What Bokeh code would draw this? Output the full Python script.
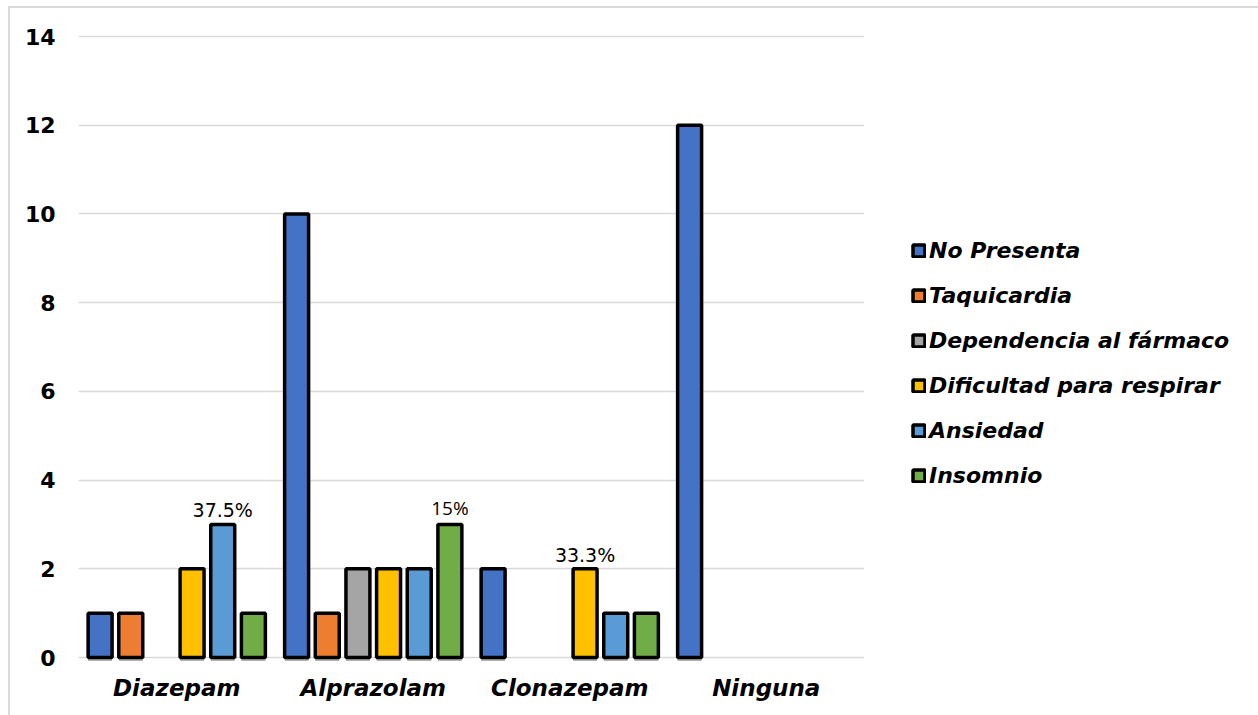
from bokeh.plotting import figure
from bokeh.models import FactorRange, Range1d, Legend, LegendItem, ColumnDataSource, FixedTicker
from bokeh.transform import dodge
from bokeh.core.properties import value
from bokeh.embed import file_html
from bokeh.resources import INLINE

# Benzodiazepine vs. reported adverse effect (counts)
categories = ["Diazepam", "Alprazolam", "Clonazepam", "Ninguna"]
series_names = ["No Presenta", "Taquicardia", "Dependencia al fármaco",
                "Dificultad para respirar", "Ansiedad", "Insomnio"]
no_presenta = [1, 10, 2, 12]
taquicardia = [1, 1, 0, 0]
dependencia = [0, 2, 0, 0]
dificultad = [2, 2, 2, 0]
ansiedad = [3, 2, 1, 0]
insomnio = [1, 3, 1, 0]
y_ticks = [0, 2, 4, 6, 8, 10, 12, 14]

# Percentage annotations: (category, series, text)
pct_labels = [("Diazepam", "Ansiedad", "37.5%"),
              ("Alprazolam", "Insomnio", "15%"),
              ("Clonazepam", "Dificultad para respirar", "33.3%")]

series_values = [no_presenta, taquicardia, dependencia, dificultad, ansiedad, insomnio]
colors = ["#4472C4", "#ED7D31", "#A5A5A5", "#FFC000", "#5B9BD5", "#70AD47"]

PX_PER_UNIT = (657 - 36) / 14.0
p = figure(
    frame_width=786, frame_height=629,
    x_range=FactorRange(*categories, range_padding=0),
    y_range=Range1d(-5 / PX_PER_UNIT, 14 + 3 / PX_PER_UNIT),
    output_backend="svg", toolbar_location=None,
    min_border_left=68, min_border_right=0, min_border_top=25, min_border_bottom=53,
)
p.styles = {"margin-left": "8px", "margin-top": "6px",
            "border-left": "2px solid #d9d9d9", "border-top": "2px solid #d9d9d9"}
p.outline_line_color = None
p.background_fill_color = "white"
p.border_fill_color = "white"

p.xgrid.grid_line_color = None
p.ygrid.grid_line_color = "#d9d9d9"
p.ygrid.grid_line_width = 1.5
p.yaxis.ticker = FixedTicker(ticks=y_ticks)

for ax in (p.xaxis[0], p.yaxis[0]):
    ax.axis_line_color = None
    ax.major_tick_line_color = None
    ax.minor_tick_line_color = None
    ax.major_tick_out = 0
    ax.major_tick_in = 0
    ax.minor_tick_out = 0
    ax.major_label_text_font = "DejaVu Sans"
    ax.major_label_text_font_style = "bold"
    ax.major_label_text_color = "black"

p.yaxis.major_label_text_font_size = "22px"
p.yaxis.major_label_standoff = 23
p.xaxis.major_label_text_font_size = "23px"
p.xaxis.major_label_text_font_style = "bold italic"
p.xaxis.major_label_standoff = 12

PITCH = 0.156
BAR_W = 0.122
offsets = [(i - 2.5) * PITCH for i in range(len(series_names))]

items = []
for name, vals, col, off in zip(series_names, series_values, colors, offsets):
    cats = [c for c, v in zip(categories, vals) if v > 0]
    tops = [v for v in vals if v > 0]
    src = ColumnDataSource(dict(cat=cats, top=tops))
    xs = dodge("cat", off, range=p.x_range)
    # soft drop shadow under each bar
    p.vbar(x=xs, top="top", bottom=-0.08, width=BAR_W, source=src,
           fill_color="#7f7f7f", fill_alpha=0.6, line_color=None)
    r = p.vbar(x=xs, top="top", bottom=0, width=BAR_W, source=src,
               fill_color=col, line_color="black", line_width=3.5)
    items.append(LegendItem(label=name, renderers=[r]))

for cat, ser, txt in pct_labels:
    si = series_names.index(ser)
    yv = series_values[si][categories.index(cat)]
    src = ColumnDataSource(dict(cat=[cat], y=[yv], t=[txt]))
    font = "Open Sans" if txt == "15%" else "DejaVu Sans"
    p.text(x=dodge("cat", offsets[si], range=p.x_range), y="y", text="t", source=src,
           text_font=value(font), text_font_size="19px", text_color="black",
           text_align="center", text_baseline="bottom", y_offset=-3)

legend = Legend(items=items, location=(47, 174))
legend.label_text_font = "DejaVu Sans"
legend.label_text_font_style = "bold italic"
legend.label_text_font_size = "22px"
legend.label_text_color = "black"
legend.glyph_width = 15
legend.glyph_height = 15
legend.label_height = 25
legend.label_width = 330
legend.label_standoff = 3
legend.spacing = 20
legend.padding = 0
legend.margin = 0
legend.border_line_color = None
legend.background_fill_alpha = 0
p.add_layout(legend, "right")

open("out.html", "w").write(file_html(p, INLINE))
